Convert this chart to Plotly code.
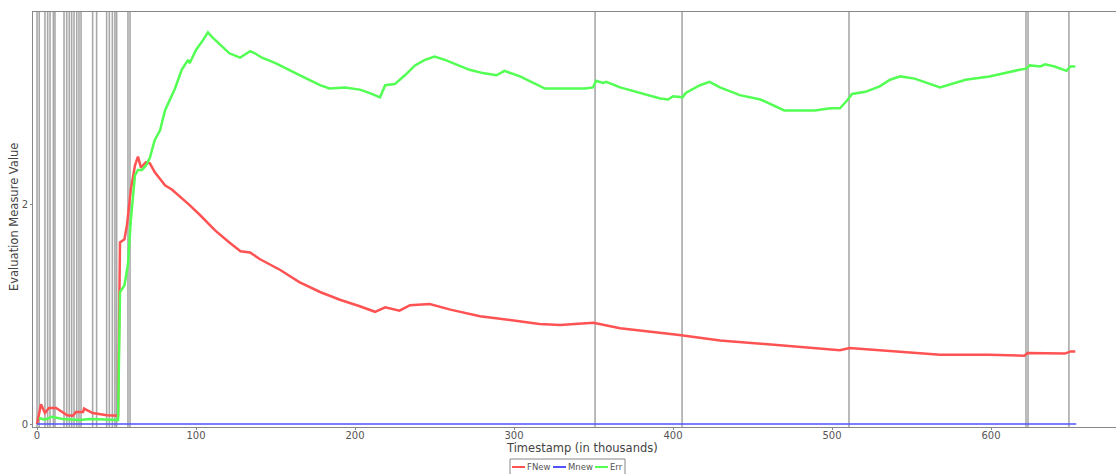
import plotly.graph_objects as go

# Timestamps (in thousands) and evaluation measure values per series
fnew_t = [0, 2.5, 5, 7.5, 12, 19, 22.6, 24.5, 29, 29.6, 35, 44, 51, 52.2, 55, 56.6, 59, 61.6,
          63.5, 65.4, 68.5, 71, 74, 80.5, 85, 90, 96, 102.5, 112, 121, 128, 134, 140, 153,
          165, 178, 190.5, 203, 212.6, 219, 228, 234.6, 247, 260, 278.6, 297.5, 316, 329,
          350, 366.7, 385.5, 404, 429.6, 455, 480, 505, 511, 542.8, 568, 599, 621, 623,
          646.5, 650, 653]
fnew_v = [0.0, 0.18, 0.10, 0.145, 0.145, 0.08, 0.075, 0.11, 0.11, 0.14, 0.10, 0.08, 0.075,
          1.65, 1.68, 1.81, 2.13, 2.35, 2.43, 2.33, 2.38, 2.37, 2.29, 2.17, 2.13, 2.07, 1.99,
          1.90, 1.76, 1.65, 1.57, 1.56, 1.50, 1.40, 1.29, 1.20, 1.13, 1.07, 1.02, 1.06, 1.03,
          1.08, 1.09, 1.04, 0.98, 0.945, 0.91, 0.90, 0.92, 0.87, 0.84, 0.81, 0.76, 0.73, 0.70,
          0.67, 0.69, 0.655, 0.63, 0.63, 0.62, 0.645, 0.64, 0.66, 0.66]

err_t = [1.3, 5, 9.4, 16, 27, 33, 51, 52.2, 55, 57.2, 59, 61.6, 63.5, 66, 68.5, 71, 74, 77.4,
         80.5, 86.8, 91, 95, 96, 100, 104.4, 107.5, 110, 115, 121, 127.7, 130.8, 134, 137,
         141.5, 150, 159, 165.4, 178, 184, 193.7, 203, 209, 215.7, 219, 225, 231.4, 237.7,
         244, 250, 256.6, 272, 280.5, 289, 294, 303.8, 319.5, 338, 344.6, 349.7, 351.6, 356,
         358, 366.7, 379, 392, 397, 400, 406, 408, 417, 423, 429.5, 442, 455, 470, 480, 489,
         499, 505, 510, 512.6, 521, 530, 536.5, 543, 552, 568, 584, 599, 618, 622, 624.5,
         631, 634, 640, 647.5, 650, 653]
err_v = [0.055, 0.04, 0.065, 0.045, 0.036, 0.045, 0.036, 1.20, 1.26, 1.45, 1.85, 2.26, 2.31,
         2.31, 2.35, 2.42, 2.58, 2.67, 2.85, 3.05, 3.22, 3.31, 3.28, 3.40, 3.49, 3.56, 3.52,
         3.45, 3.37, 3.33, 3.36, 3.39, 3.37, 3.33, 3.28, 3.22, 3.17, 3.08, 3.05, 3.06, 3.04,
         3.01, 2.97, 3.08, 3.09, 3.17, 3.26, 3.31, 3.34, 3.31, 3.22, 3.19, 3.17, 3.21, 3.16,
         3.05, 3.05, 3.05, 3.06, 3.12, 3.10, 3.11, 3.06, 3.01, 2.96, 2.95, 2.98, 2.97, 3.01,
         3.08, 3.11, 3.06, 2.99, 2.95, 2.85, 2.85, 2.85, 2.87, 2.87, 2.95, 3.00, 3.02, 3.07,
         3.13, 3.16, 3.14, 3.06, 3.13, 3.16, 3.22, 3.23, 3.26, 3.25, 3.27, 3.25, 3.21, 3.25,
         3.25]

mnew_t = [0, 653.6]
mnew_v = [0, 0]

# Detected drift points (in thousands)
drift_points = [0, 1.4, 5, 6.7, 8.2, 10.3, 11.3, 17, 18.7, 20.3, 21.8, 23.3, 25, 26.4, 27.7,
                35, 37.5, 43.8, 45.5, 47.4, 49, 50.1, 57.2, 58.5, 351, 405.7, 510.7, 622,
                623.3, 649]

x_ticks = [0, 100, 200, 300, 400, 500, 600]
y_ticks = [0, 2]

RED = "rgb(255,82,82)"
BLUE = "rgb(82,82,255)"
GREEN = "rgb(82,255,82)"

fig = go.Figure()

for d in drift_points:
    fig.add_shape(type="line", x0=d, x1=d, xref="x", y0=0, y1=1, yref="paper",
                  line=dict(color="rgba(140,140,140,0.75)", width=1.6), layer="below")

fig.add_trace(go.Scatter(x=fnew_t, y=fnew_v, mode="lines", name="FNew",
                         line=dict(color=RED, width=2.5), showlegend=False))
fig.add_trace(go.Scatter(x=mnew_t, y=mnew_v, mode="lines", name="Mnew",
                         line=dict(color=BLUE, width=1.5), showlegend=False))
fig.add_trace(go.Scatter(x=err_t, y=err_v, mode="lines", name="Err",
                         line=dict(color=GREEN, width=2.5), showlegend=False))

# Helpers converting page pixels to paper coordinates
W_PLOT, H_PLOT, L, T = 1083.0, 415.0, 33.0, 12.0


def px(x):
    return (x - L) / W_PLOT


def py(y):
    return (T + H_PLOT - y) / H_PLOT


# Axis titles
fig.add_annotation(text="Timestamp (in thousands)", xref="paper", yref="paper",
                   x=px(582), y=py(448), xanchor="center", yanchor="middle",
                   showarrow=False, font=dict(family="DejaVu Sans", size=11.5, color="#444"))
fig.add_annotation(text="Evaluation Measure Value", xref="paper", yref="paper",
                   x=px(14), y=py(217), xanchor="center", yanchor="middle", textangle=-90,
                   showarrow=False, font=dict(family="DejaVu Sans", size=11.5, color="#444"))

# Legend box below the axis
fig.add_shape(type="rect", xref="paper", yref="paper", x0=px(510), x1=px(625),
              y0=py(476), y1=py(459), line=dict(color="#888", width=1), fillcolor="white")
legend_items = [("FNew", RED, 512, 526), ("Mnew", BLUE, 553, 567), ("Err", GREEN, 595, 609)]
for name, color, lx, tx in legend_items:
    fig.add_shape(type="line", xref="paper", yref="paper", x0=px(lx), x1=px(lx + 13),
                  y0=py(467), y1=py(467), line=dict(color=color, width=2))
    fig.add_annotation(text=name, xref="paper", yref="paper", x=px(tx), y=py(467),
                       xanchor="left", yanchor="middle", showarrow=False, borderpad=0,
                       font=dict(family="DejaVu Sans", size=8.5, color="#555"))

fig.update_layout(
    width=1116, height=474,
    margin=dict(l=33, r=0, t=12, b=47),
    paper_bgcolor="white", plot_bgcolor="white",
    showlegend=False,
    font=dict(family="DejaVu Sans", size=10, color="#555"),
    xaxis=dict(range=[-4 / 1.59, 1079 / 1.59], tickvals=x_ticks,
               showgrid=False, zeroline=False, showline=True, linecolor="#888",
               linewidth=1, mirror=True, ticks="outside", ticklen=2, tickcolor="#888",
               ticklabelstandoff=-3,
               tickfont=dict(size=10, color="#555")),
    yaxis=dict(range=[-3 / 110, 412 / 110], tickvals=y_ticks,
               showgrid=False, zeroline=False, showline=True, linecolor="#888",
               linewidth=1, ticks="outside", ticklen=2, tickcolor="#888",
               tickfont=dict(size=10, color="#555")),
)

fig.write_html("out.html")
